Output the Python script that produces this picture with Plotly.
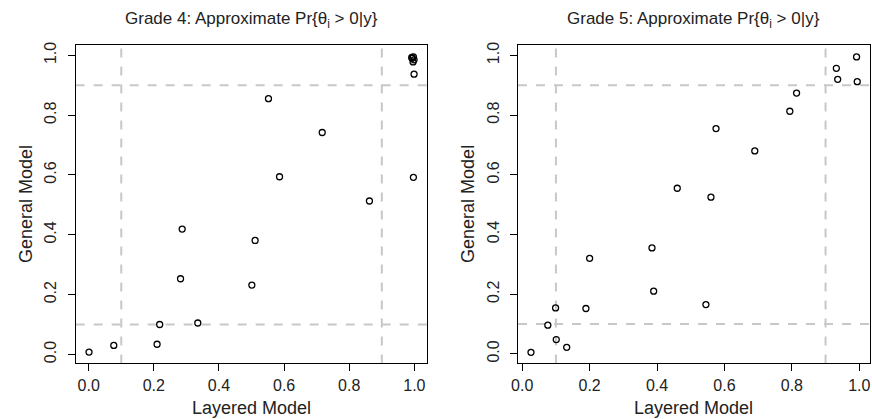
import plotly.graph_objects as go

# Grade 4 data
g4_layered = [0.001, 0.077, 0.210, 0.218, 0.335, 0.282, 0.501, 0.287, 0.511, 0.552,
              0.717, 0.586, 0.862, 0.997, 0.999, 0.992, 0.997, 0.999, 0.996, 0.993]
g4_general = [0.008, 0.030, 0.034, 0.100, 0.105, 0.253, 0.232, 0.419, 0.381, 0.855,
              0.742, 0.594, 0.513, 0.592, 0.937, 0.993, 0.995, 0.985, 0.978, 0.990]

# Grade 5 data
g5_layered = [0.026, 0.132, 0.101, 0.076, 0.099, 0.189, 0.200, 0.390, 0.385, 0.545,
              0.460, 0.560, 0.575, 0.690, 0.794, 0.814, 0.932, 0.936, 0.994, 0.992]
g5_general = [0.005, 0.022, 0.048, 0.096, 0.154, 0.152, 0.320, 0.210, 0.355, 0.165,
              0.555, 0.525, 0.755, 0.680, 0.813, 0.874, 0.957, 0.920, 0.912, 0.995]

tick_vals = [0.0, 0.2, 0.4, 0.6, 0.8, 1.0]
tick_text = ["0.0", "0.2", "0.4", "0.6", "0.8", "1.0"]
cutoffs = [0.1, 0.9]
titles = ["Grade 4: Approximate Pr{θ<sub>i</sub> > 0|y}",
          "Grade 5: Approximate Pr{θ<sub>i</sub> > 0|y}"]

W, H = 872, 419
FONT = "Liberation Sans, Arial, Helvetica, sans-serif"

fig = go.Figure()
marker = dict(symbol="circle-open", size=6, color="black", line=dict(width=1.3, color="black"))
fig.add_trace(go.Scatter(x=g4_layered, y=g4_general, mode="markers", marker=marker,
                         xaxis="x", yaxis="y", showlegend=False, cliponaxis=False))
fig.add_trace(go.Scatter(x=g5_layered, y=g5_general, mode="markers", marker=marker,
                         xaxis="x2", yaxis="y2", showlegend=False, cliponaxis=False))

ydom = [1 - 363 / H, 1 - 42.3 / H]
xdom1 = [69.3 / W, 424.3 / W]
xdom2 = [515.7 / W, 870.7 / W]

axis_common = dict(showgrid=False, zeroline=False, showline=True, mirror=True,
                   linecolor="black", linewidth=1, ticks="outside", ticklen=7,
                   tickcolor="black", tickwidth=1, tickvals=tick_vals, ticktext=tick_text,
                   tickfont=dict(family=FONT, size=16, color="#222"))

fig.update_layout(
    width=W, height=H,
    margin=dict(l=0, r=0, t=0, b=0),
    paper_bgcolor="white", plot_bgcolor="white",
    font=dict(family=FONT, color="#222"),
    xaxis=dict(domain=xdom1, range=[-0.04, 1.04], anchor="y", **axis_common),
    yaxis=dict(domain=ydom, range=[-0.030, 1.0345], anchor="x", tickangle=-90,
               ticklabelstandoff=5, **axis_common),
    xaxis2=dict(domain=xdom2, range=[-0.0126, 1.031], anchor="y2", **axis_common),
    yaxis2=dict(domain=ydom, range=[-0.032, 1.035], anchor="x2", tickangle=-90,
                ticklabelstandoff=5, **axis_common),
)

shapes = []
for xa, ya in [("x", "y"), ("x2", "y2")]:
    for c in cutoffs:
        shapes.append(dict(type="line", xref=xa, yref=ya + " domain", x0=c, x1=c, y0=0, y1=1,
                           line=dict(color="#c8c8c8", width=2, dash="dash"), layer="below"))
        shapes.append(dict(type="line", xref=xa + " domain", yref=ya, x0=0, x1=1, y0=c, y1=c,
                           line=dict(color="#c8c8c8", width=2, dash="dash"), layer="below"))
fig.update_layout(shapes=shapes)

ann = []
for i, (xd, t) in enumerate([(xdom1, titles[0]), (xdom2, titles[1])]):
    cx = (xd[0] + xd[1]) / 2
    ann.append(dict(text=t, x=cx, y=1 - 17 / H, xref="paper", yref="paper",
                    showarrow=False, xanchor="center", yanchor="middle",
                    font=dict(family=FONT, size=17, color="#222")))
    ann.append(dict(text="Layered Model", x=cx, y=1 - 408 / H, xref="paper", yref="paper",
                    showarrow=False, xanchor="center", yanchor="middle",
                    font=dict(family=FONT, size=18, color="#222")))
    gx = 19 / W if i == 0 else 465 / W
    ann.append(dict(text="General Model", x=gx, y=(ydom[0] + ydom[1]) / 2, xref="paper",
                    yref="paper", showarrow=False, textangle=-90, xanchor="center",
                    yanchor="middle", font=dict(family=FONT, size=18, color="#222")))
fig.update_layout(annotations=ann)

fig.write_html("out.html", config={"displayModeBar": False},
               post_script="document.body.style.margin='0px';document.body.style.overflow='hidden';")
